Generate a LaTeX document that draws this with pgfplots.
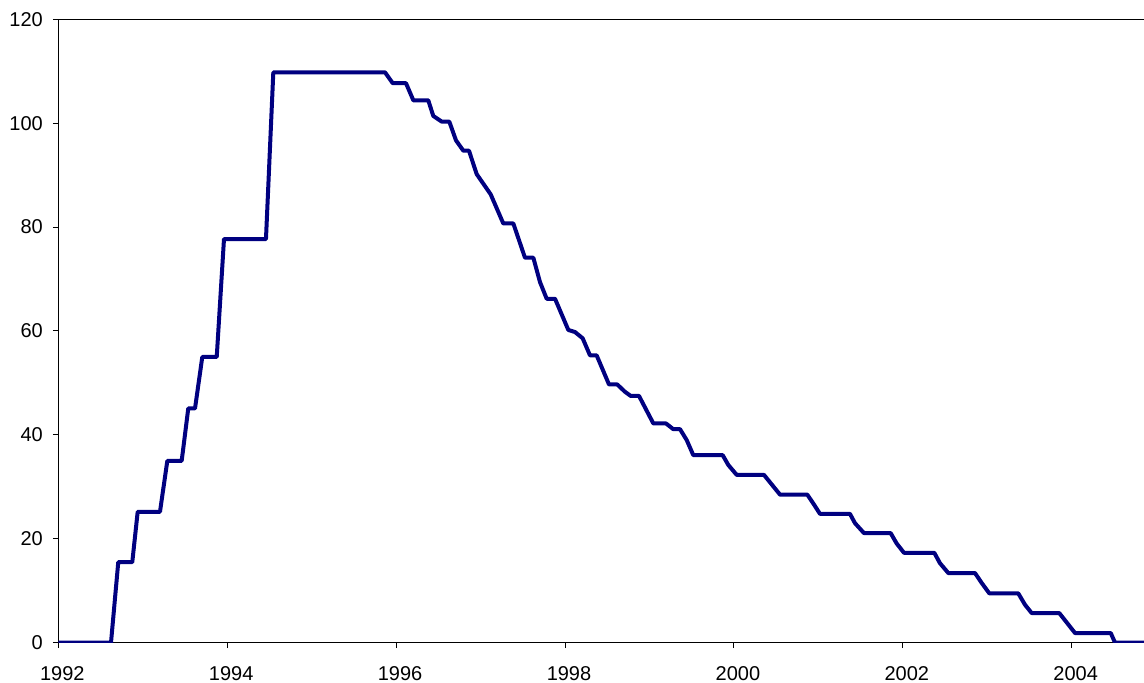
\documentclass[border=0pt]{standalone}
\usepackage{pgfplots}
\pgfplotsset{compat=1.18}
\usepackage{fontspec}
\setmainfont{Liberation Sans}
\definecolor{navyline}{HTML}{000080}
\begin{document}
\begin{tikzpicture}
\begin{axis}[name=ax, scale only axis, width=542.85pt, height=311.7pt,
  xmin=1992, xmax=2004.856, ymin=0, ymax=120,
  axis x line*=bottom, axis y line*=left,
  axis line style={black, line width=0.5pt},
  tick style={black, line width=0.5pt},
  tick align=outside, major tick length=2.75pt,
  xtick={1992,1994,...,2004}, ytick={0,20,...,120},
  minor tick num=0,
  /pgf/number format/assume math mode=true,
  /pgf/number format/1000 sep={},
  tick label style={font=\fontsize{10}{12}\selectfont},
  x tick label style={yshift=-5.5pt, xshift=2pt},
  y tick label style={xshift=-1.5pt},
  clip=true]
\addplot[navyline, line width=2pt, line join=round, mark=none] coordinates {
(1992.000,0) (1992.624,0) (1992.710,15.5) (1992.876,15.5) (1992.940,25.2)
(1993.204,25.2) (1993.291,35.0) (1993.461,35.0) (1993.539,45.1) (1993.619,45.1)
(1993.705,55.0) (1993.876,55.0) (1993.962,77.7) (1994.459,77.7) (1994.546,109.8)
(1995.868,109.8) (1995.960,107.7) (1996.117,107.7) (1996.204,104.4) (1996.381,104.4)
(1996.440,101.4) (1996.540,100.3) (1996.630,100.3) (1996.709,96.7) (1996.796,94.7)
(1996.863,94.7) (1996.954,90.2) (1997.120,86.3) (1997.269,80.7) (1997.388,80.7)
(1997.526,74.1) (1997.625,74.1) (1997.704,69.4) (1997.783,66.2) (1997.882,66.2)
(1998.039,60.2) (1998.118,59.8) (1998.209,58.6) (1998.296,55.3) (1998.375,55.3)
(1998.521,49.7) (1998.619,49.7) (1998.710,48.3) (1998.778,47.5) (1998.876,47.5)
(1999.046,42.2) (1999.196,42.2) (1999.282,41.1) (1999.362,41.1) (1999.441,39.0)
(1999.519,36.1) (1999.867,36.1) (1999.934,34.2) (2000.033,32.3) (2000.356,32.3)
(2000.546,28.5) (2000.869,28.5) (2000.940,26.8) (2001.019,24.8) (2001.374,24.8)
(2001.434,23.0) (2001.540,21.1) (2001.856,21.1) (2001.927,19.1) (2002.014,17.3)
(2002.373,17.3) (2002.440,15.3) (2002.539,13.4) (2002.855,13.4) (2002.934,11.5)
(2003.024,9.5) (2003.367,9.5) (2003.447,7.3) (2003.526,5.7) (2003.853,5.7)
(2004.039,1.86) (2004.462,1.86) (2004.513,0) (2004.856,0)
};
\end{axis}
\draw[black, line width=0.5pt] (ax.north west) -- (ax.north east);
\pgfresetboundingbox
\path[use as bounding box] ([xshift=-29.15pt,yshift=-20.15pt]ax.south west) rectangle ([yshift=9.65pt]ax.north east);
\end{tikzpicture}
\end{document}
